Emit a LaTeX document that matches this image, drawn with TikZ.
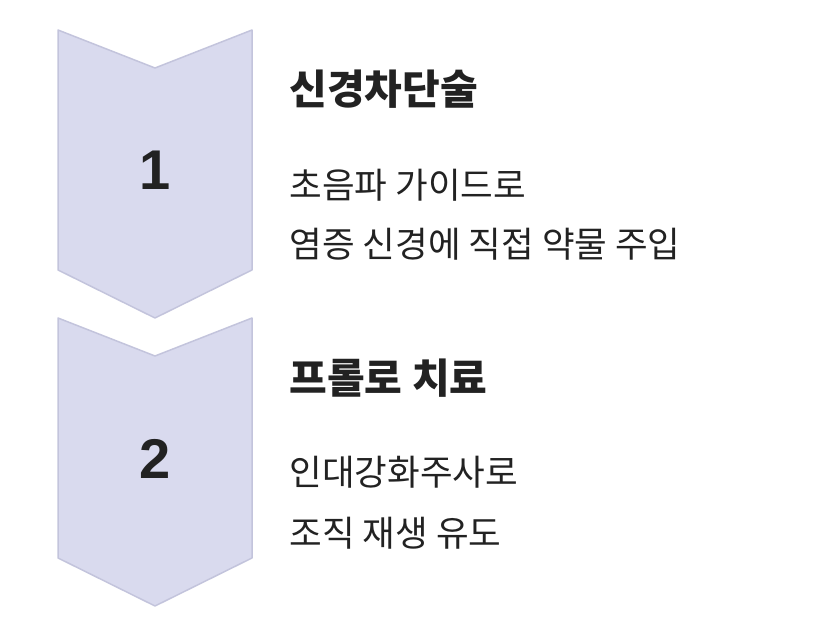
\documentclass[tikz,border=0pt]{standalone}
\usepackage{fontspec}
\setmainfont{Noto Sans CJK KR}
\newfontfamily\numfont{Liberation Sans}
\definecolor{chfill}{HTML}{D9DAEE}
\definecolor{chline}{HTML}{C3C4DC}
\definecolor{txt}{HTML}{222222}
\begin{document}
\begin{tikzpicture}[x=1pt,y=-1pt,
  chev/.style={fill=chfill,draw=chline,line width=1.5pt,line join=round},
  num/.style={font=\numfont\bfseries\fontsize{56}{56}\selectfont,text=txt},
  ttl/.style={anchor=west,font=\bfseries\fontsize{41}{41}\selectfont,text=txt},
  body/.style={anchor=west,font=\fontsize{35.5}{36}\selectfont,text=txt}]
\useasboundingbox (0,0) rectangle (836,636);
\draw[chev] (58,30) -- (155,68) -- (252,30) -- (252,270) -- (155,318) -- (58,270) -- cycle;
\draw[chev] (58,318) -- (155,356) -- (252,318) -- (252,558) -- (155,606) -- (58,558) -- cycle;
\node[num] (n1) at (155,170) {1};
\node[num] (n2) at (155,459) {2};
\node[ttl] (t1) at (286,89) {신경차단술};
\node[body] (b1a) at (286,185) {초음파 가이드로};
\node[body] (b1b) at (286,244) {염증 신경에 직접 약물 주입};
\node[ttl] (t2) at (286,378) {프롤로 치료};
\node[body] (b2a) at (286,472) {인대강화주사로};
\node[body] (b2b) at (286,533) {조직 재생 유도};
\end{tikzpicture}
\end{document}
